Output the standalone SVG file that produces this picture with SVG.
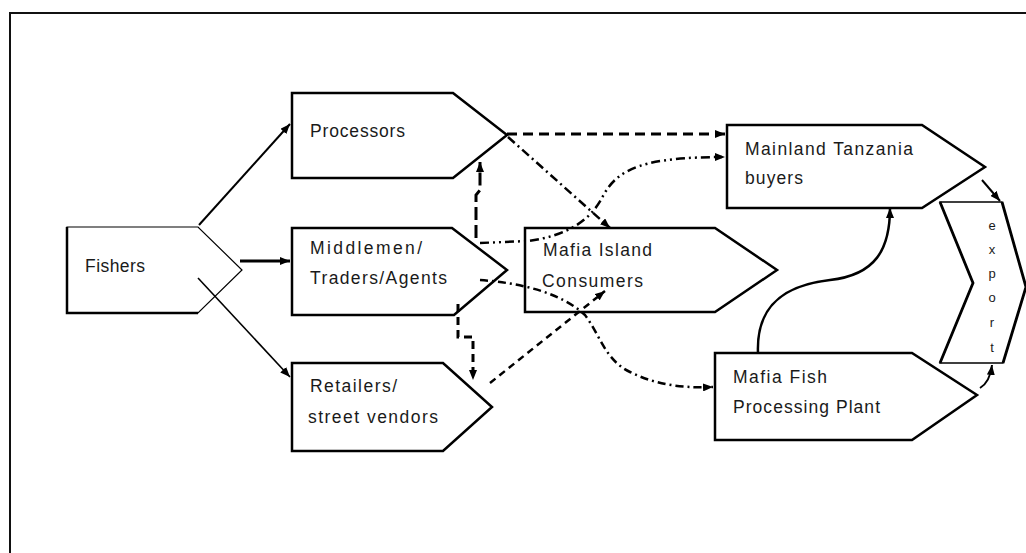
<svg xmlns="http://www.w3.org/2000/svg" width="1026" height="553" viewBox="0 0 1026 553">
<defs>
<marker id="ah" viewBox="0 0 10 8" refX="10" refY="4" markerWidth="10" markerHeight="8" markerUnits="userSpaceOnUse" orient="auto">
<path d="M0,0 L10,4 L0,8 Z" fill="#000"/>
</marker>
<style>
.node{fill:#fff;stroke:#000;stroke-width:2.5;stroke-linejoin:miter}
.lbl{font-family:"Liberation Sans",Arial,sans-serif;font-size:17.5px;fill:#1a1a1a}
.ex{font-family:"Liberation Sans",Arial,sans-serif;font-size:13px;fill:#1a1a1a;text-anchor:middle}
.c{fill:none;stroke:#000;marker-end:url(#ah)}
</style>
</defs>
<rect x="10" y="13" width="1040" height="600" fill="#fff" stroke="#111" stroke-width="2"/>

<g id="fishers">
<path d="M67,227 H198 L242,270 L198,313 H67 Z" fill="#fff" stroke="#000" stroke-width="1.2"/>
<path d="M67,227 V313 H198" fill="none" stroke="#000" stroke-width="2.5"/>
<text class="lbl" x="85" y="272" textLength="60" lengthAdjust="spacing">Fishers</text>
</g>

<g id="processors">
<path class="node" d="M292,93 H453 L507,135 L453,178 H292 Z"/>
<text class="lbl" x="310" y="137" textLength="95" lengthAdjust="spacing">Processors</text>
</g>

<g id="middlemen">
<path class="node" d="M292,228 H452 L507,270 L454,315 H292 Z"/>
<text class="lbl" x="310" y="254" textLength="112" lengthAdjust="spacing">Middlemen/</text>
<text class="lbl" x="310" y="284" textLength="137" lengthAdjust="spacing">Traders/Agents</text>
</g>

<g id="retailers">
<path class="node" d="M292,363 H443 L492,407 L443,451 H292 Z"/>
<text class="lbl" x="310" y="392" textLength="87" lengthAdjust="spacing">Retailers/</text>
<text class="lbl" x="308" y="423" textLength="130" lengthAdjust="spacing">street vendors</text>
</g>

<g id="consumers">
<path class="node" d="M525,228 H715 L777,270 L715,312 H525 Z"/>
<text class="lbl" x="543" y="256" textLength="109" lengthAdjust="spacing">Mafia Island</text>
<text class="lbl" x="542" y="287" textLength="101" lengthAdjust="spacing">Consumers</text>
</g>

<g id="mainland">
<path class="node" d="M727,125 H922 L985,167 L922,208 H727 Z"/>
<text class="lbl" x="745" y="155" textLength="168" lengthAdjust="spacing">Mainland Tanzania</text>
<text class="lbl" x="745" y="184" textLength="58" lengthAdjust="spacing">buyers</text>
</g>

<g id="plant">
<path class="node" d="M715,353 H912 L977,395 L912,440 H715 Z"/>
<text class="lbl" x="733" y="383" textLength="94" lengthAdjust="spacing">Mafia Fish</text>
<text class="lbl" x="733" y="413" textLength="147" lengthAdjust="spacing">Processing Plant</text>
</g>

<g id="export">
<path d="M940,202 H1002 L1026,287 L1003,363 H940 L973,283 Z" fill="#fff" stroke="#000" stroke-width="1.3"/>
<path d="M940,202 L973,283 L940,363 M1002,202 L1026,287 L1003,363" fill="none" stroke="#000" stroke-width="2.8"/>
<text class="ex" x="992" y="230">e</text>
<text class="ex" x="992" y="254">x</text>
<text class="ex" x="992" y="278">p</text>
<text class="ex" x="992" y="302">o</text>
<text class="ex" x="992" y="327">r</text>
<text class="ex" x="992" y="352">t</text>
</g>

<g id="connectors">
<path class="c" d="M199,225 L290,124" stroke-width="2"/>
<path class="c" d="M240,261 L290,261" stroke-width="3"/>
<path class="c" d="M198,278 L290,377" stroke-width="1.6"/>
<path class="c" d="M507,134 L725,134" stroke-width="3" stroke-dasharray="10 6"/>
<path class="c" d="M508,137 L610,228" stroke-width="2.5" stroke-dasharray="9 4 2 4"/>
<path class="c" d="M476,238 V195 L480,190 V162" stroke-width="3" stroke-dasharray="13 5"/>
<path class="c" d="M458,304 V337 H473 V380" stroke-width="3" stroke-dasharray="8 5"/>
<path class="c" d="M480,243 L528,241 C565,236 590,222 603,196 C618,168 645,157 725,157" stroke-width="2.5" stroke-dasharray="9 4 2 4 2 4"/>
<path class="c" d="M480,280 C520,283 560,292 585,315 C600,335 605,360 630,372 C660,387 690,388 713,387" stroke-width="2.5" stroke-dasharray="8 4 2 4"/>
<path class="c" d="M490,383 L605,291" stroke-width="2.5" stroke-dasharray="7 5"/>
<path class="c" d="M758,353 C756,305 785,285 830,280 C875,275 890,250 890,208" stroke-width="2.5"/>
<path class="c" d="M982,180 L1000,201" stroke-width="2"/>
<path class="c" d="M980,388 Q990,382 992,365" stroke-width="2"/>
</g>
</svg>
